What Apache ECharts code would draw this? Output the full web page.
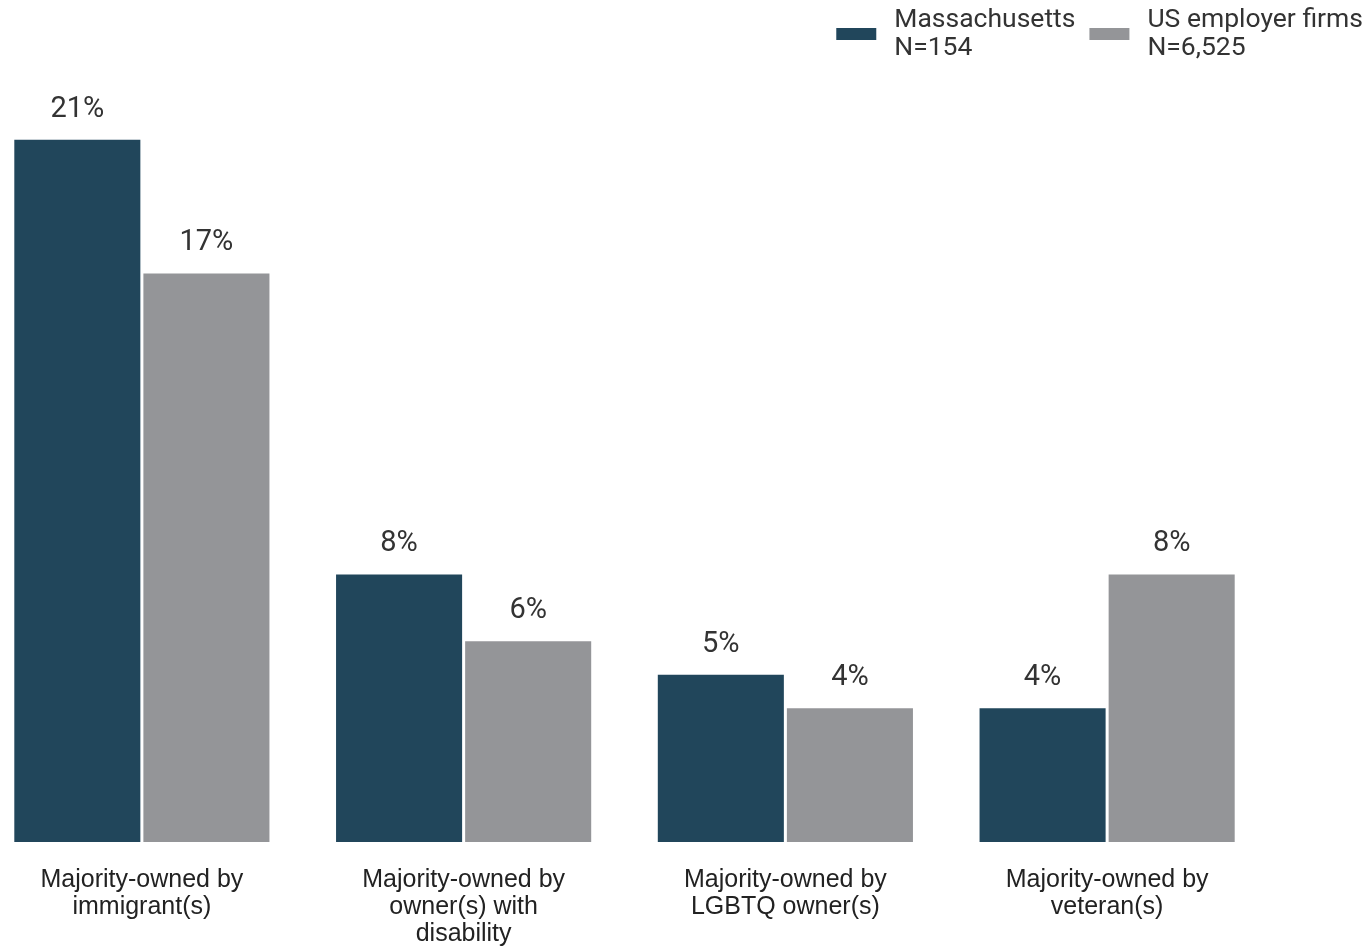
<!DOCTYPE html>
<html>
<head>
<meta charset="utf-8">
<script src="https://cdn.jsdelivr.net/npm/echarts@6/dist/echarts.min.js"></script>
<style>
  html, body { margin: 0; padding: 0; background: #fff; }
  #chart { width: 1370px; height: 947px; }
</style>
</head>
<body>
<div id="chart"></div>
<script>
// 数据
const categories = [
  "Majority-owned by\nimmigrant(s)",
  "Majority-owned by\nowner(s) with\ndisability",
  "Majority-owned by\nLGBTQ owner(s)",
  "Majority-owned by\nveteran(s)"
];
const massachusetts = [21, 8, 5, 4];
const usFirms = [17, 6, 4, 8];
const seriesNames = ["Massachusetts", "US employer firms"];
const sampleSizes = ["N=154", "N=6,525"];

const labelStyle = {
  show: true,
  position: "top",
  distance: 16,
  formatter: "{c}%",
  fontFamily: "Roboto",
  fontSize: 29,
  color: "#333333"
};

const chart = echarts.init(document.getElementById("chart"));
chart.setOption({
  animation: false,
  legend: {
    top: 1,
    right: 2,
    itemWidth: 40,
    itemHeight: 12,
    itemGap: 14,
    icon: "rect",
    data: seriesNames,
    formatter: function (name) {
      return name + "\n" + sampleSizes[seriesNames.indexOf(name)];
    },
    textStyle: {
      fontFamily: "Roboto",
      fontSize: 26.5,
      lineHeight: 28,
      color: "#333333",
      padding: [0, 0, 0, 13]
    }
  },
  grid: {
    left: -19,
    right: 102,
    top: 6,
    bottom: 105,
    outerBoundsMode: "none"
  },
  xAxis: {
    type: "category",
    data: categories,
    axisLine: { show: false },
    axisTick: { show: false },
    axisLabel: {
      interval: 0,
      margin: 25,
      fontFamily: "Liberation Sans",
      fontSize: 25,
      lineHeight: 27,
      color: "#222222"
    }
  },
  yAxis: {
    type: "value",
    min: 0,
    max: 25,
    show: false,
    splitLine: { show: false }
  },
  series: [
    {
      name: seriesNames[0],
      type: "bar",
      data: massachusetts,
      barGap: "2.4%",
      barCategoryGap: "20.7%",
      itemStyle: { color: "#21465b" },
      label: labelStyle
    },
    {
      name: seriesNames[1],
      type: "bar",
      data: usFirms,
      itemStyle: { color: "#949598" },
      label: labelStyle
    }
  ]
});
</script>
</body>
</html>
